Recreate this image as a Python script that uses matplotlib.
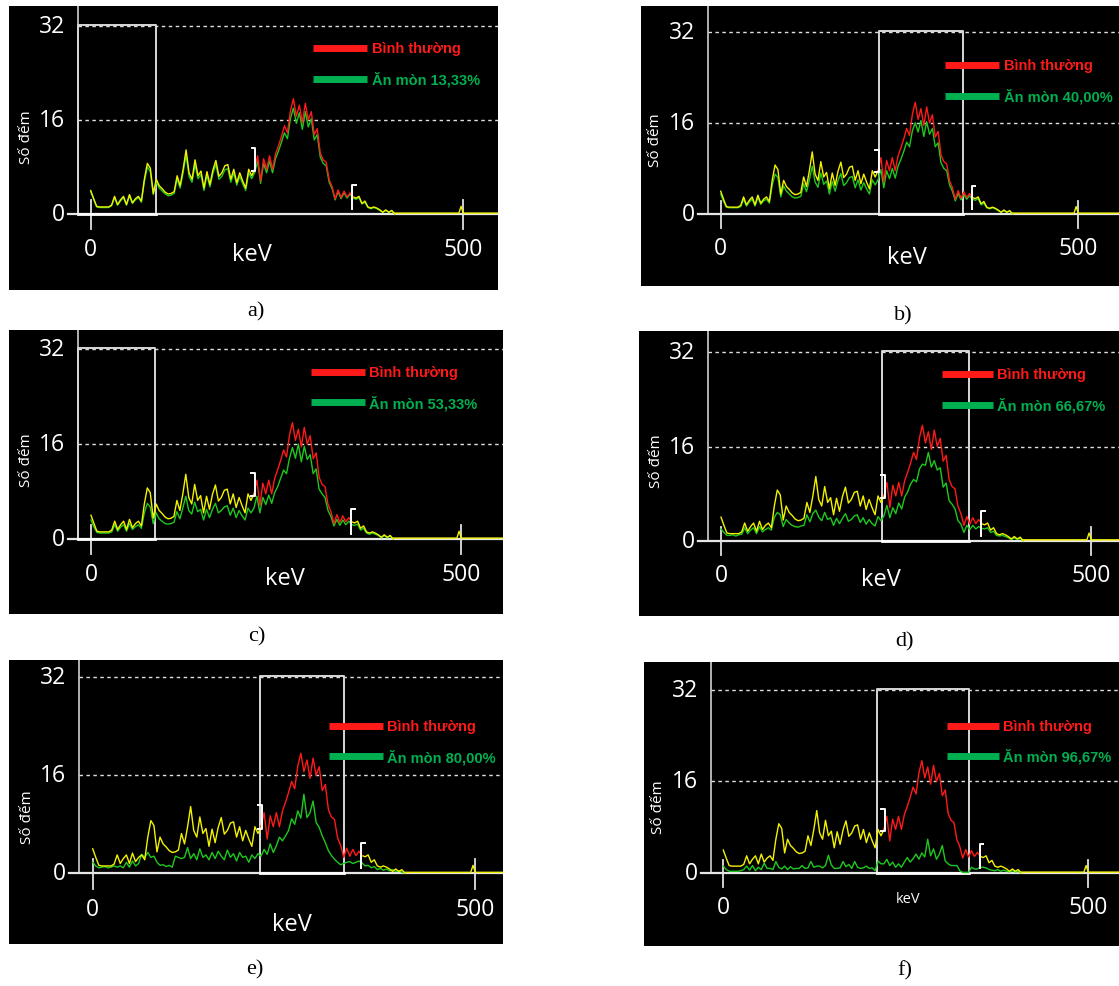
import numpy as np
import matplotlib.pyplot as plt

# channel energies (keV), one value every 4 keV
kev = np.arange(0, 412, 4)

# reference spectrum ("Bình thường")
normal = [4.0, 2.6, 1.3, 1.2, 1.2, 1.2, 1.2, 1.5, 3.0, 1.6, 2.4, 3.0, 1.6, 3.3, 1.9, 2.6, 3.0, 2.2, 5.9, 8.6,
          7.8, 3.5, 5.9, 4.8, 4.3, 3.7, 3.4, 3.5, 3.8, 6.5, 4.8, 7.6, 10.9, 7.0, 5.9, 9.2, 6.5, 7.3, 4.4, 7.2,
          5.0, 7.5, 9.1, 6.4, 7.0, 8.2, 8.4, 5.9, 7.6, 5.3, 7.0, 5.6, 4.4, 7.6, 6.5, 7.6, 9.9, 5.6, 9.4, 7.6,
          9.9, 7.6, 10.2, 11.6, 13.2, 15.0, 13.8, 17.5, 19.6, 16.6, 18.5, 15.5, 18.8, 16.0, 17.4, 13.5, 14.5, 10.4, 9.2, 8.8,
          5.8, 4.6, 2.6, 4.1, 2.8, 3.9, 2.9, 3.6, 2.9, 2.7, 3.0, 1.8, 2.2, 1.2, 1.0, 1.2, 1.0, 0.7, 0.3, 0.7,
          0.3, 0.6, 0.0]

# corroded spectra ("Ăn mòn")
corr_a = [3.8, 2.5, 1.2, 1.1, 1.1, 1.1, 1.1, 1.4, 2.8, 1.5, 2.2, 2.8, 1.5, 3.1, 1.8, 2.4, 2.8, 2.0, 5.5, 8.0,
          7.2, 3.3, 5.5, 4.4, 3.9, 3.4, 3.1, 3.2, 3.5, 6.0, 4.4, 7.0, 10.0, 6.4, 5.4, 8.4, 6.0, 6.7, 4.0, 6.6,
          4.6, 6.9, 8.4, 5.9, 6.4, 7.5, 7.7, 5.4, 7.0, 4.9, 6.4, 5.1, 4.0, 7.0, 6.0, 7.0, 9.0, 5.2, 8.6, 7.0,
          9.0, 7.0, 9.4, 10.7, 12.2, 13.8, 12.8, 16.2, 18.0, 15.4, 17.2, 14.4, 17.4, 14.8, 16.2, 12.6, 13.5, 9.7, 8.6, 8.2,
          5.4, 4.3, 2.4, 3.8, 2.6, 3.6, 2.7, 3.4, 2.7, 2.5, 2.8, 1.7, 2.0, 1.1, 0.9, 1.1, 0.9, 0.6, 0.3, 0.6,
          0.3, 0.5, 0.0]
corr_b = [3.5, 2.2, 1.2, 1.1, 1.1, 1.1, 1.1, 1.3, 2.6, 1.4, 2.1, 2.6, 1.4, 2.9, 1.7, 2.3, 2.6, 1.9, 5.0, 7.0,
          6.4, 3.0, 4.9, 4.0, 3.5, 3.0, 2.8, 2.9, 3.1, 5.3, 3.9, 6.0, 8.4, 5.6, 4.7, 7.2, 5.2, 5.8, 3.5, 5.7,
          4.0, 5.9, 7.1, 5.0, 5.5, 6.4, 6.6, 4.6, 6.0, 4.2, 5.5, 4.4, 3.5, 6.0, 5.1, 6.0, 7.8, 4.6, 7.6, 6.2,
          8.0, 6.3, 8.4, 9.6, 11.0, 12.6, 11.8, 14.6, 16.0, 14.4, 16.4, 13.6, 16.2, 14.0, 15.0, 11.8, 12.5, 9.0, 8.0, 7.6,
          5.1, 4.0, 2.3, 3.6, 2.5, 3.4, 2.6, 3.2, 2.6, 2.4, 2.7, 1.6, 1.9, 1.1, 0.9, 1.1, 0.9, 0.6, 0.3, 0.6,
          0.3, 0.5, 0.0]
corr_c = [3.2, 2.0, 1.1, 1.0, 1.0, 1.0, 1.0, 1.2, 2.4, 1.3, 2.0, 2.4, 1.3, 2.6, 1.6, 2.1, 2.4, 1.8, 4.4, 6.0,
          5.4, 2.6, 4.4, 3.4, 3.0, 2.6, 2.5, 2.6, 2.8, 4.6, 3.4, 5.2, 7.2, 4.8, 4.2, 6.2, 4.6, 5.0, 3.2, 5.0,
          3.6, 5.0, 6.0, 4.4, 4.8, 5.4, 5.6, 4.0, 5.2, 3.6, 4.8, 3.9, 3.2, 5.2, 4.4, 5.2, 7.2, 4.4, 7.0, 5.8,
          7.4, 6.0, 7.8, 8.8, 10.2, 11.6, 11.0, 13.6, 15.4, 13.6, 16.0, 13.0, 15.6, 13.4, 14.2, 11.0, 11.8, 8.4, 7.6, 7.0,
          4.8, 3.8, 2.2, 3.3, 2.3, 3.2, 2.4, 3.0, 2.4, 2.3, 2.5, 1.5, 1.8, 1.0, 0.8, 1.0, 0.8, 0.6, 0.2, 0.6,
          0.2, 0.5, 0.0]
corr_d = [2.0, 1.4, 0.9, 0.9, 1.0, 0.8, 1.0, 1.1, 2.2, 1.2, 1.8, 2.2, 1.2, 2.4, 1.5, 1.9, 2.2, 1.8, 4.0, 4.8,
          4.4, 2.4, 3.6, 3.0, 2.6, 2.4, 2.3, 2.5, 2.6, 4.4, 3.2, 4.6, 5.2, 4.0, 3.4, 4.8, 3.6, 3.9, 2.6, 3.8,
          2.9, 3.8, 4.6, 3.3, 3.6, 4.2, 4.4, 3.1, 3.9, 2.8, 3.6, 2.9, 2.5, 4.1, 3.4, 4.2, 6.0, 3.9, 5.6, 4.6,
          6.4, 5.4, 7.4, 8.3, 9.6, 10.4, 10.0, 12.2, 13.0, 12.8, 15.0, 12.5, 13.6, 12.0, 12.4, 9.1, 9.8, 6.8, 6.2, 5.4,
          3.4, 2.8, 1.4, 2.6, 1.9, 2.6, 2.0, 2.4, 2.1, 2.0, 2.2, 1.4, 1.6, 0.9, 0.8, 0.9, 0.7, 0.5, 0.2, 0.5,
          0.2, 0.4, 0.0]
corr_e = [1.8, 1.2, 0.9, 1.0, 1.1, 0.9, 1.0, 1.2, 1.0, 1.2, 0.9, 1.8, 1.0, 2.0, 1.2, 1.6, 3.1, 2.6, 3.4, 2.6,
          2.8, 1.8, 1.3, 1.4, 1.1, 1.3, 1.0, 2.8, 2.6, 2.4, 2.6, 4.2, 2.4, 3.2, 2.2, 4.0, 2.6, 3.0, 2.2, 3.4,
          2.4, 3.6, 2.8, 2.2, 3.8, 2.6, 3.2, 2.0, 3.4, 2.6, 2.8, 1.8, 3.0, 2.4, 3.2, 2.8, 3.9, 3.1, 4.8, 3.4,
          4.5, 5.9, 5.3, 6.1, 7.0, 8.9, 8.0, 10.2, 9.0, 12.9, 9.1, 9.9, 11.8, 8.3, 7.5, 6.1, 5.0, 3.7, 2.9, 2.3,
          1.8, 1.4, 1.6, 1.8, 1.9, 1.6, 1.8, 2.0, 1.7, 1.2, 1.3, 0.9, 1.1, 0.6, 0.8, 0.5, 0.7, 0.4, 0.6, 0.3,
          0.4, 0.2, 0.0]
corr_f = [1.2, 0.6, 0.3, 0.3, 0.3, 0.3, 0.4, 0.6, 1.2, 0.5, 1.3, 0.4, 1.0, 0.6, 1.7, 0.8, 0.8, 0.6, 2.0, 1.0,
          0.7, 1.2, 0.6, 1.1, 0.7, 0.8, 0.8, 1.3, 0.8, 0.9, 2.0, 1.0, 1.2, 1.2, 0.9, 1.3, 3.1, 1.4, 0.8, 0.8,
          0.9, 2.0, 1.1, 1.5, 0.8, 2.0, 1.0, 0.8, 0.9, 1.2, 0.8, 0.9, 0.4, 2.1, 1.6, 1.6, 2.4, 1.3, 1.9, 1.0,
          1.6, 1.0, 1.9, 2.7, 1.9, 2.5, 3.3, 2.4, 3.5, 2.8, 5.9, 3.0, 4.2, 2.4, 3.3, 4.8, 2.1, 1.6, 1.3, 1.3,
          1.3, 0.4, 0.1, 0.1, 0.1, 1.0, 0.7, 0.7, 1.0, 1.0, 0.9, 0.6, 0.5, 0.4, 0.6, 0.3, 0.5, 0.3, 0.2, 0.4,
          0.2, 0.3, 0.0]

# flat tail with the small bump near 500 keV
tail_x = [408, 488, 494, 497, 500, 506, 700]
tail_y = [0.15, 0.15, 0.15, 1.3, 0.15, 0.15, 0.15]

percent = ['13,33%', '40,00%', '53,33%', '66,67%', '80,00%', '96,67%']
letters = ['a)', 'b)', 'c)', 'd)', 'e)', 'f)']
corroded = [corr_a, corr_b, corr_c, corr_d, corr_e, corr_f]

# layout of each panel in figure pixels
# rect (L, T, R, B), pixel of keV 0 / 500, pixel of count 0 / 32, y-axis pixel
panels = [
    dict(rect=(9, 7, 498, 291), x0=90.7, x5=463.3, y0=215, y32=26.7, yax=78.3, box=(-17, 87),
         kev_lab=(216, -6.8, 17), ylab_y=13.3, leg=(298, 371, 28.2, 22.9, 377), cap=(256, 312)),
    dict(rect=(641, 7, 1119, 287), x0=720.7, x5=1078.3, y0=215, y32=32.7, yax=707.7, box=(221, 339),
         kev_lab=(260, -7.6, 17), ylab_y=13.1, leg=(314, 389, 26.1, 20.8, 396), cap=(903, 316)),
    dict(rect=(9, 331, 503, 615), x0=91, x5=461.3, y0=540, y32=350, yax=78.3, box=(-17, 86.4),
         kev_lab=(262, -6.5, 17), ylab_y=13.5, leg=(297, 370, 28.2, 23.0, 376), cap=(257, 637)),
    dict(rect=(639, 332, 1119, 617), x0=721, x5=1091.3, y0=541.7, y32=353.3, yax=708.3, box=(218, 335),
         kev_lab=(216, -6.5, 17), ylab_y=13.6, leg=(298, 367, 28.3, 23.1, 373), cap=(905, 642)),
    dict(rect=(9, 661, 503, 945), x0=92.7, x5=475.3, y0=874.3, y32=678.3, yax=79.3, box=(219, 329),
         kev_lab=(260, -8.3, 17), ylab_y=9.4, leg=(309, 379, 24.1, 19.1, 385), cap=(255, 970)),
    dict(rect=(644, 663, 1119, 947), x0=723.3, x5=1088.3, y0=874, y32=690.7, yax=711, box=(210, 336),
         kev_lab=(253, -4.4, 10.5), ylab_y=11.7, leg=(306, 377, 25.6, 20.5, 383), cap=(905, 971)),
]

W, H = 1119, 987
YEL, RED, GRN = '#f2f200', '#ff1a1a', '#1fc81f'
LEG_RED, LEG_GRN = '#ff1a1a', '#00b050'

fig = plt.figure(figsize=(W / 100, H / 100), dpi=100)

for i, p in enumerate(panels):
    L, T, R, B = p['rect']
    ax = fig.add_axes([L / W, 1 - B / H, (R - L) / W, (B - T) / H])
    ax.set_facecolor('black')
    for s in ax.spines.values():
        s.set_visible(False)
    ax.set_xticks([])
    ax.set_yticks([])
    sx = (p['x5'] - p['x0']) / 500
    sy = (p['y0'] - p['y32']) / 32
    ax.set_xlim((L - p['x0']) / sx, (R - p['x0']) / sx)
    ax.set_ylim((p['y0'] - B) / sy, (p['y0'] - T) / sy)
    xr = (R - p['x0']) / sx
    ytop = (p['y0'] - T) / sy
    yax = (p['yax'] - p['x0']) / sx

    # axes, grid, ticks
    ax.plot([yax, yax], [0, ytop], color='#d0d0d0', lw=1.2)
    ax.plot([yax - 10 / sx, xr], [0, 0], color='#e6e6e6', lw=1.6)
    for g in [16, 32]:
        ax.plot([yax, xr], [g, g], color='#e0e0e0', lw=1, ls=(0, (2.5, 2.5)))
        ax.text(yax - 13 / sx, g, str(g), color='white', fontsize=16.5, family='Open Sans',
                ha='right', va='center')
    ax.text(yax - 13 / sx, 0, '0', color='white', fontsize=16.5, family='Open Sans',
            ha='right', va='center')
    for t in [0, 500]:
        ax.plot([t, t], [-2.5, 2.3], color='#e0e0e0', lw=1.3)
        ax.text(t, -5.9, str(t), color='white', fontsize=16.5, family='Open Sans',
                ha='center', va='center')
    kx, ky, ks = p['kev_lab']
    ax.text(kx, ky, 'keV', color='white', fontsize=ks, family='Open Sans', ha='center', va='center')
    ax.text(yax - 52 / sx, p['ylab_y'], 'Số đếm', color='white', fontsize=11, family='Open Sans',
            rotation=90, ha='center', va='center')

    # energy window box
    bl, br = p['box']
    ax.plot([bl, bl, br, br], [0, 32.2, 32.2, 0], color='#d8d8d8', lw=1.4)
    ax.plot([bl, br], [0, 0], color='white', lw=2)

    # spectra
    ax.plot(kev, corroded[i], color=GRN, lw=1)
    ax.plot(kev[:56], normal[:56], color=YEL, lw=1)
    ax.plot(kev[88:], normal[88:], color=YEL, lw=1)
    ax.plot(kev[55:89], normal[55:89], color=RED, lw=1)
    ax.plot(tail_x, tail_y, color=YEL, lw=1)

    # ROI markers
    ax.plot([216, 221, 221, 216], [11.2, 11.2, 7.3, 7.3], color='white', lw=1.4)
    ax.plot([356, 351, 351], [5.0, 5.0, 0.8], color='white', lw=1.4)

    # legend
    x1, x2, yr, yg, xt = p['leg']
    ax.plot([x1, x2], [yr, yr], color=LEG_RED, lw=5, solid_capstyle='butt')
    ax.plot([x1, x2], [yg, yg], color=LEG_GRN, lw=5, solid_capstyle='butt')
    ax.text(xt, yr, 'Bình thường', color=LEG_RED, fontsize=10.5, family='Liberation Sans',
            weight='bold', va='center', ha='left')
    ax.text(xt, yg, 'Ăn mòn ' + percent[i], color=LEG_GRN, fontsize=10.5, family='Liberation Sans',
            weight='bold', va='center', ha='left')

    fig.text(p['cap'][0] / W, 1 - p['cap'][1] / H, letters[i], fontsize=16,
             family='Liberation Serif', ha='center', va='center')

fig.savefig('out.png', dpi=100, facecolor='white')
